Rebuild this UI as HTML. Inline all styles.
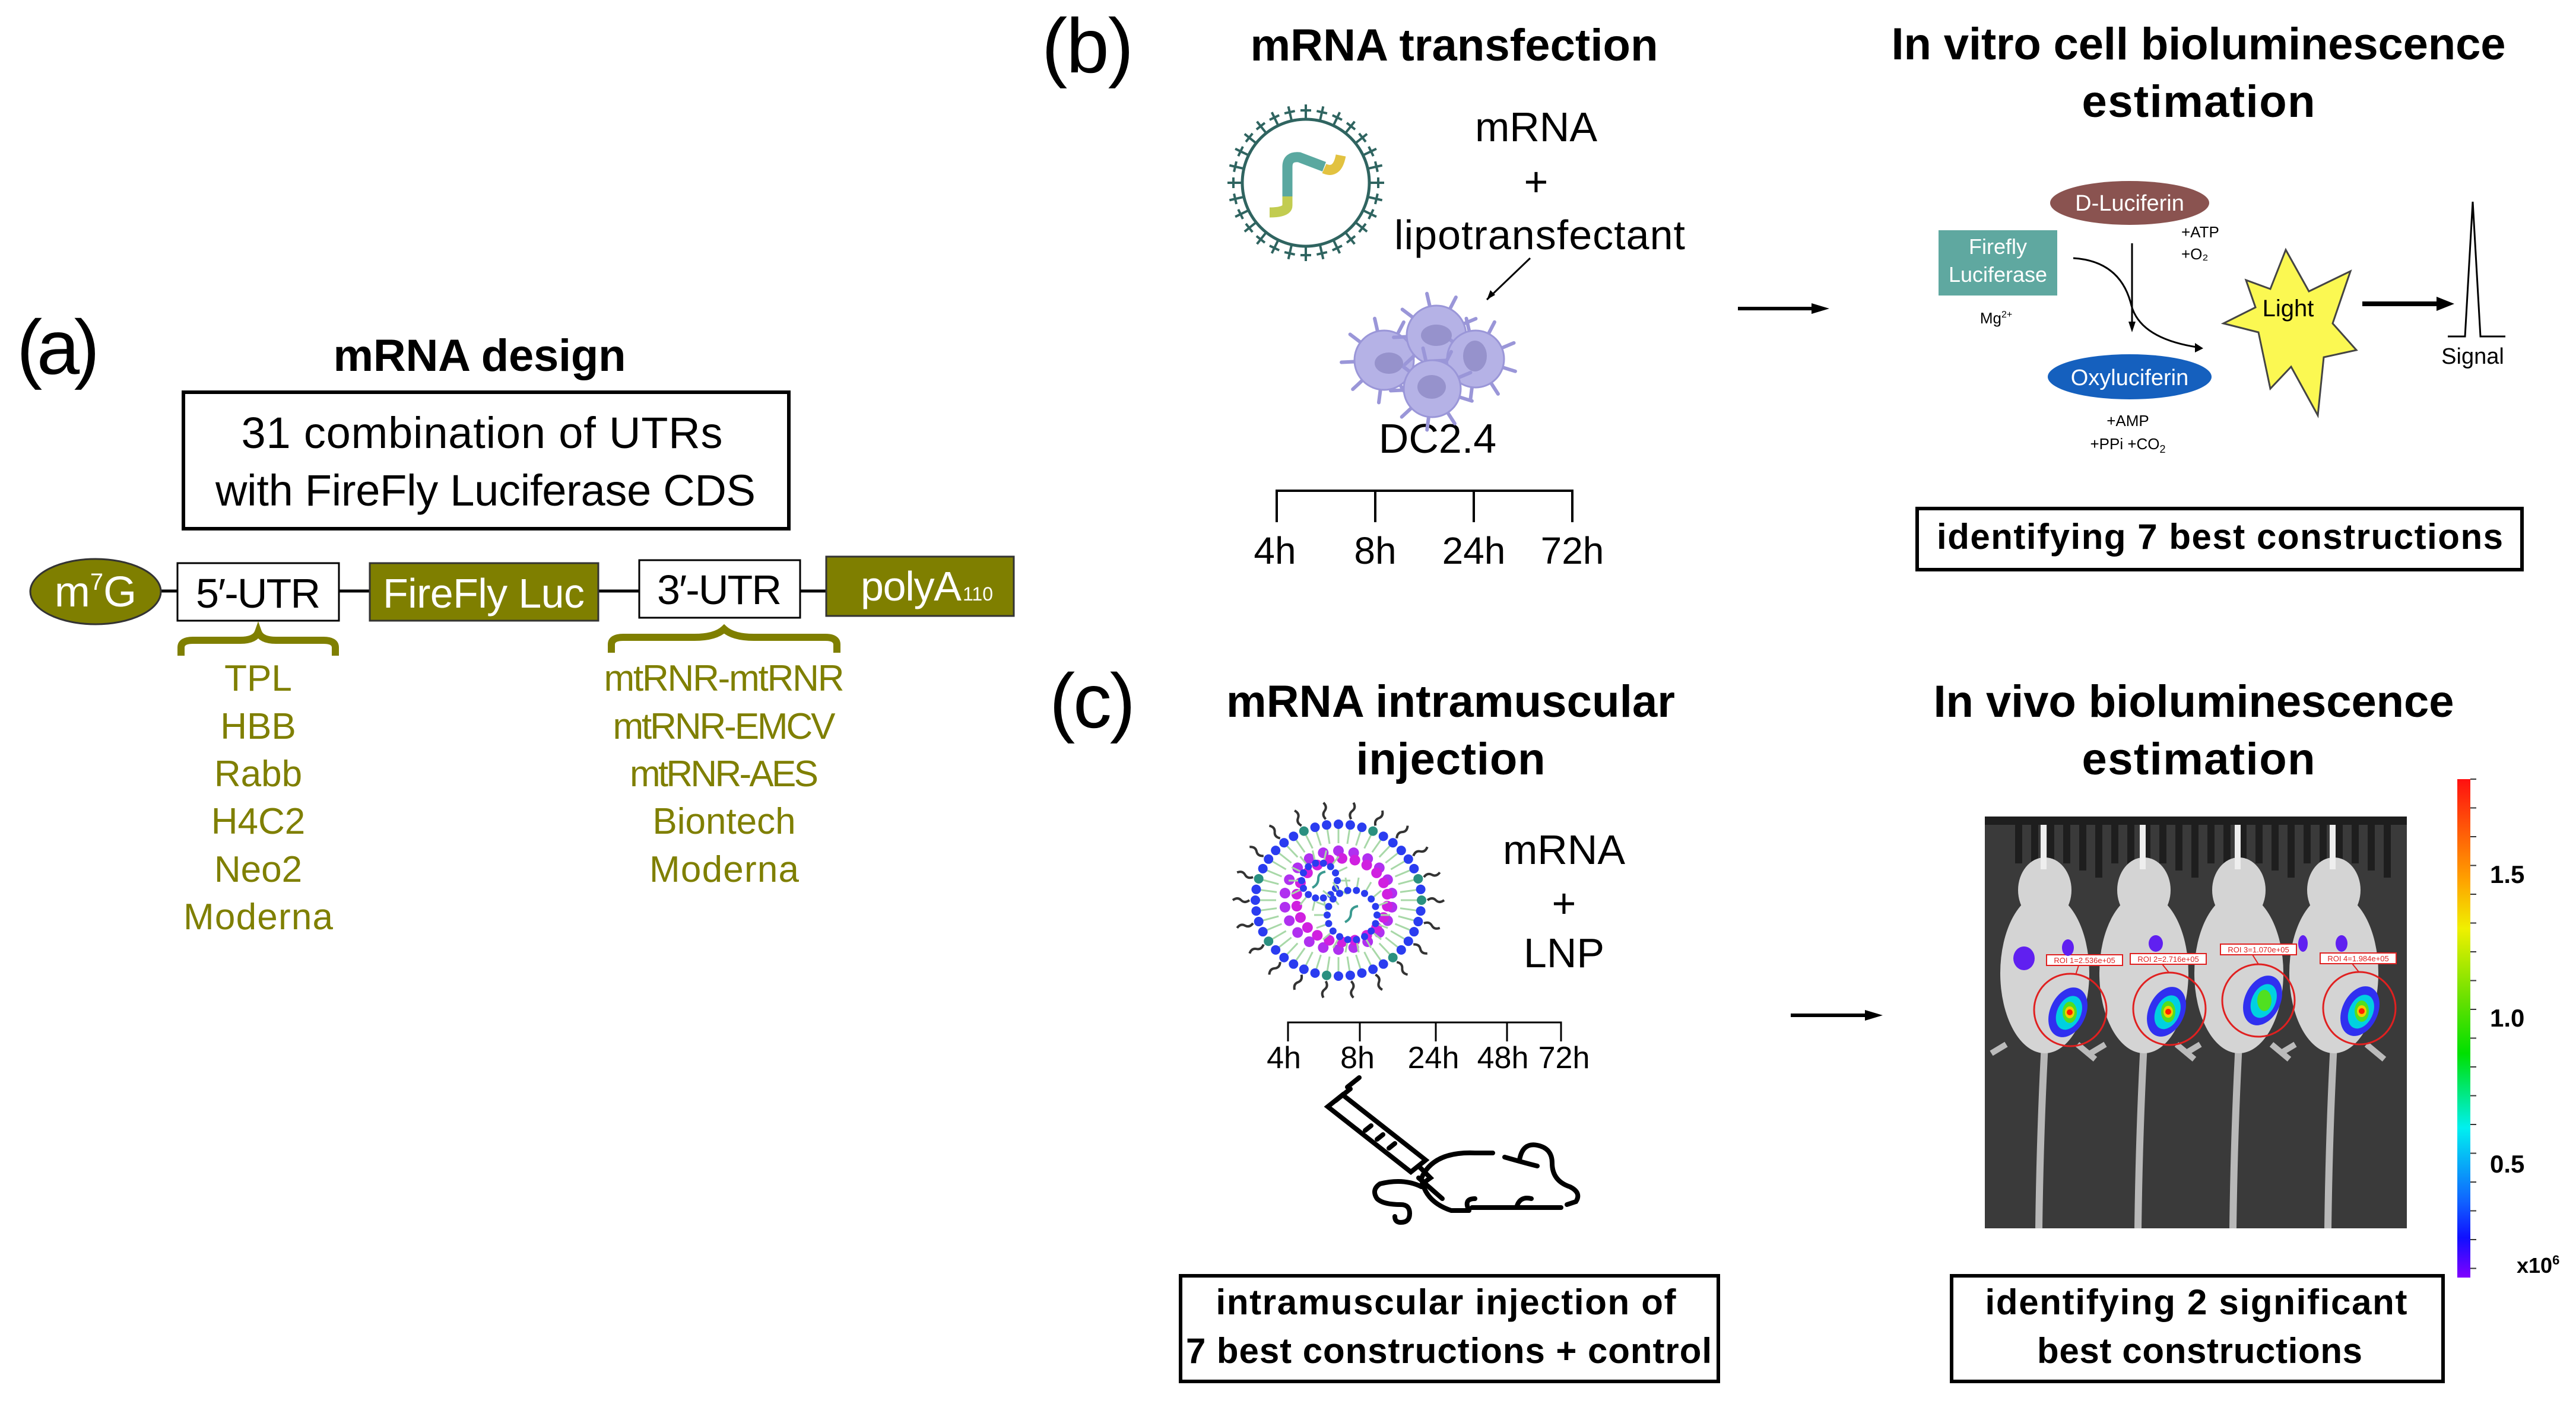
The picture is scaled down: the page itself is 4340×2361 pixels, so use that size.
<!DOCTYPE html>
<html><head><meta charset="utf-8"><style>html,body{margin:0;padding:0;background:#fff}svg{display:block}</style></head>
<body>
<svg id="s" xmlns="http://www.w3.org/2000/svg" width="4340" height="2361" viewBox="0 0 4340 2361" font-family="Liberation Sans, sans-serif">
<rect width="4340" height="2361" fill="#fff"/>
<!-- (a) -->
<text x="28" y="630" font-size="130" textLength="140">(a)</text>
<text x="808" y="625" font-size="76" font-weight="bold" text-anchor="middle" textLength="493">mRNA design</text>
<rect x="309" y="661" width="1020" height="230" fill="none" stroke="#000" stroke-width="6"/>
<text x="812" y="755" font-size="74" text-anchor="middle" textLength="811">31 combination of UTRs</text>
<text x="818" y="852" font-size="74" text-anchor="middle" textLength="910">with FireFly Luciferase CDS</text>
<line x1="260" y1="996" x2="1400" y2="996" stroke="#000" stroke-width="5"/>
<ellipse cx="161" cy="997" rx="110" ry="55" fill="#7f7f00" stroke="#333" stroke-width="3"/>
<text x="161" y="1022" font-size="72" fill="#fff" text-anchor="middle">m<tspan font-size="40" dy="-28">7</tspan><tspan dy="28">G</tspan></text>
<rect x="299" y="949" width="272" height="97" fill="#fff" stroke="#000" stroke-width="3"/>
<text x="435" y="1024" font-size="70" text-anchor="middle" textLength="210">5′-UTR</text>
<rect x="623" y="949" width="385" height="97" fill="#7f7f00" stroke="#333" stroke-width="3"/>
<text x="815" y="1024" font-size="70" fill="#fff" text-anchor="middle" textLength="340">FireFly Luc</text>
<rect x="1077" y="944" width="271" height="97" fill="#fff" stroke="#000" stroke-width="3"/>
<text x="1212" y="1018" font-size="70" text-anchor="middle" textLength="210">3′-UTR</text>
<rect x="1392" y="938" width="316" height="100" fill="#7f7f00" stroke="#333" stroke-width="3"/>
<text x="1450" y="1012" font-size="70" fill="#fff" textLength="170">polyA</text><text x="1622" y="1012" font-size="32" fill="#fff">110</text>
<path d="M305,1105 v-14 q0,-12 20,-12 h80 q25,0 30,-14 q5,14 30,14 h80 q20,0 20,12 v14" fill="none" stroke="#7f7f00" stroke-width="12"/>
<path d="M1030,1100 v-14 q0,-12 20,-12 h120 q35,0 50,-14 q15,14 50,14 h120 q20,0 20,12 v14" fill="none" stroke="#7f7f00" stroke-width="12"/>
<g font-size="62" fill="#7f7f00" text-anchor="middle">
<text x="435" y="1164">TPL</text><text x="435" y="1245">HBB</text><text x="435" y="1325">Rabb</text><text x="435" y="1405">H4C2</text><text x="435" y="1486">Neo2</text><text x="435" y="1566" textLength="252">Moderna</text>
<text x="1220" y="1164" textLength="405">mtRNR-mtRNR</text><text x="1220" y="1245" textLength="375">mtRNR-EMCV</text><text x="1220" y="1325" textLength="318">mtRNR-AES</text><text x="1220" y="1405">Biontech</text><text x="1220" y="1486" textLength="252">Moderna</text>
</g>
<!-- (b) -->
<text x="1755" y="122" font-size="130" textLength="155">(b)</text>
<text x="2450" y="102" font-size="76" font-weight="bold" text-anchor="middle" textLength="687">mRNA transfection</text>
<g id="lipo"></g>
<path d="M2169,331 v-50 q0,-18 20,-16 l42,16" fill="none" stroke="#5aa8a0" stroke-width="17"/>
<path d="M2231,284 q22,10 28,-22" fill="none" stroke="#e2c240" stroke-width="17"/>
<path d="M2169,331 v15 q0,12 -30,12" fill="none" stroke="#c2cc50" stroke-width="17"/>
<g font-size="70" text-anchor="middle">
<text x="2588" y="238">mRNA</text><text x="2588" y="330">+</text><text x="2594" y="420" textLength="490">lipotransfectant</text>
<text x="2422" y="763">DC2.4</text>
</g>
<line x1="2578" y1="435" x2="2505" y2="505" stroke="#000" stroke-width="3"/>
<path d="M2505,505 l6,-16 l8,8 z" fill="#000"/>
<g id="cells" fill="#b5b2e6" stroke="#9a96d8" stroke-width="3"></g>
<g fill="#9692cc"><ellipse cx="2340" cy="612" rx="24" ry="18"/><ellipse cx="2420" cy="565" rx="26" ry="18"/><ellipse cx="2485" cy="600" rx="20" ry="26"/><ellipse cx="2412" cy="652" rx="24" ry="20"/></g>
<g stroke="#000" stroke-width="4" fill="none">
<path d="M2151,880 v-53 h498 v53 M2317,827 v53 M2483,827 v53"/>
</g>
<g font-size="64" text-anchor="middle"><text x="2148" y="950">4h</text><text x="2317" y="950">8h</text><text x="2483" y="950">24h</text><text x="2649" y="950">72h</text></g>
<line x1="2928" y1="520" x2="3060" y2="520" stroke="#000" stroke-width="6"/><path d="M3082,520 l-30,-9 v18 z"/>
<text x="3704" y="100" font-size="76" font-weight="bold" text-anchor="middle" textLength="1035">In vitro cell bioluminescence</text>
<text x="3704" y="197" font-size="76" font-weight="bold" text-anchor="middle" textLength="393">estimation</text>
<rect x="3266" y="388" width="200" height="110" fill="#5fa8a0"/>
<text x="3366" y="428" font-size="36" fill="#fff" text-anchor="middle">Firefly</text>
<text x="3366" y="475" font-size="36" fill="#fff" text-anchor="middle">Luciferase</text>
<ellipse cx="3588" cy="342" rx="134" ry="37" fill="#8a5350"/>
<text x="3588" y="355" font-size="38" fill="#fff" text-anchor="middle">D-Luciferin</text>
<text x="3675" y="400" font-size="26">+ATP</text><text x="3675" y="437" font-size="26">+O₂</text>
<text x="3363" y="545" font-size="26" text-anchor="middle">Mg<tspan font-size="16" dy="-10">2+</tspan></text>
<ellipse cx="3588" cy="635" rx="138" ry="38" fill="#1560be"/>
<text x="3588" y="649" font-size="38" fill="#fff" text-anchor="middle">Oxyluciferin</text>
<text x="3585" y="718" font-size="26" text-anchor="middle">+AMP</text>
<text x="3585" y="757" font-size="26" text-anchor="middle">+PPi +CO<tspan font-size="18" dy="6">2</tspan></text>
<path d="M3493,435 q80,5 98,80 q15,55 110,70" fill="none" stroke="#000" stroke-width="3"/>
<path d="M3712,587 l-14,-9 v16 z"/>
<line x1="3592" y1="410" x2="3592" y2="545" stroke="#000" stroke-width="3"/><path d="M3592,560 l-6,-18 h12 z"/>
<polygon points="3851,421 3890,491 3960,457 3930,545 3970,590 3915,602 3905,700 3860,618 3825,655 3805,560 3746,545 3800,518 3784,472 3825,487" fill="#fbf852" stroke="#444" stroke-width="3"/>
<text x="3855" y="533" font-size="40" text-anchor="middle">Light</text>
<line x1="3980" y1="512" x2="4110" y2="512" stroke="#000" stroke-width="8"/><path d="M4135,512 l-30,-12 v24 z"/>
<path d="M4124,567 h29 l13,-227 l13,227 h42" fill="none" stroke="#000" stroke-width="3"/>
<text x="4166" y="613" font-size="38" text-anchor="middle">Signal</text>
<rect x="3230" y="857" width="1019" height="103" fill="none" stroke="#000" stroke-width="6"/>
<text x="3740" y="925" font-size="60" font-weight="bold" text-anchor="middle" textLength="954">identifying 7 best constructions</text>
<!-- (c) -->
<text x="1768" y="1226" font-size="130" textLength="145">(c)</text>
<text x="2444" y="1208" font-size="76" font-weight="bold" text-anchor="middle" textLength="756">mRNA intramuscular</text>
<text x="2444" y="1305" font-size="76" font-weight="bold" text-anchor="middle" textLength="319">injection</text>
<g id="lnp"></g>
<g font-size="70" text-anchor="middle"><text x="2635" y="1456">mRNA</text><text x="2635" y="1546">+</text><text x="2635" y="1630">LNP</text></g>
<g stroke="#000" stroke-width="3" fill="none"><path d="M2170,1755 v-32 h460 v32 M2291,1723 v32 M2419,1723 v32 M2539,1723 v32"/></g>
<g font-size="52" text-anchor="middle"><text x="2163" y="1800">4h</text><text x="2287" y="1800">8h</text><text x="2415" y="1800">24h</text><text x="2532" y="1800">48h</text><text x="2635" y="1800">72h</text></g>
<g stroke="#000" stroke-width="8" fill="none" stroke-linecap="round">
<path d="M2250,1855 l25,-20 M2262,1845 l140,110 l-25,20 l-140,-110 z" />
<path d="M2270,1832 l20,-16 M2300,1905 l10,-8 M2320,1920 l10,-8 M2340,1935 l10,-8"/>
<path d="M2390,1965 l20,20 l-14,10 M2390,1985 l40,35"/>
<path d="M2395,1985 q20,-45 90,-42 h30 M2535,1950 q35,10 55,15 M2560,1955 q5,-30 30,-25 q25,5 25,30 q0,30 30,40 q20,10 10,25 l-15,5 M2480,2035 h150 M2395,1985 q5,40 50,55 h30 M2475,2040 q-10,-20 10,-20 M2555,2035 q5,-20 25,-15 M2395,2000 q-30,-15 -70,-5 q-15,10 -5,25 q10,10 40,10 q15,0 15,15 q0,15 -15,15 q-10,0 -10,-10"/>
</g>
<line x1="3017" y1="1711" x2="3150" y2="1711" stroke="#000" stroke-width="6"/><path d="M3172,1711 l-30,-9 v18 z"/>
<rect x="1989" y="2150" width="906" height="178" fill="none" stroke="#000" stroke-width="6"/>
<text x="2436" y="2215" font-size="60" font-weight="bold" text-anchor="middle" textLength="775">intramuscular injection of</text>
<text x="2441" y="2297" font-size="60" font-weight="bold" text-anchor="middle" textLength="886">7 best constructions + control</text>
<text x="3696" y="1208" font-size="76" font-weight="bold" text-anchor="middle" textLength="877">In vivo bioluminescence</text>
<text x="3704" y="1305" font-size="76" font-weight="bold" text-anchor="middle" textLength="393">estimation</text>
<!-- mouse image -->
<rect x="3344" y="1376" width="711" height="694" fill="#3a3a3a"/>
<rect x="3344" y="1376" width="711" height="14" fill="#1e1e1e"/>
<g fill="#1e1e1e" id="bars"></g>
<g fill="#d4d4d4" id="mice"></g>
<g id="blobs"></g>
<defs><linearGradient id="cb" x1="0" y1="0" x2="0" y2="1">
<stop offset="0" stop-color="#ff1010"/><stop offset="0.2" stop-color="#ffa000"/><stop offset="0.3" stop-color="#f0f000"/><stop offset="0.45" stop-color="#60e000"/><stop offset="0.55" stop-color="#00e000"/><stop offset="0.7" stop-color="#00f0f0"/><stop offset="0.85" stop-color="#1060ff"/><stop offset="0.92" stop-color="#1010ff"/><stop offset="1" stop-color="#8000ff"/></linearGradient></defs>
<rect x="4140" y="1313" width="22" height="840" fill="url(#cb)"/>
<g id="cbt" stroke="#333" stroke-width="2"></g>
<g font-size="42" font-weight="bold"><text x="4195" y="1488">1.5</text><text x="4195" y="1730">1.0</text><text x="4195" y="1976">0.5</text><text x="4240" y="2145" font-size="36">x10<tspan font-size="22" dy="-14">6</tspan></text></g>
<rect x="3288" y="2150" width="828" height="178" fill="none" stroke="#000" stroke-width="6"/>
<text x="3700" y="2215" font-size="60" font-weight="bold" text-anchor="middle" textLength="711">identifying 2 significant</text>
<text x="3706" y="2297" font-size="60" font-weight="bold" text-anchor="middle" textLength="548">best constructions</text>
</svg>
<script>
var NS="http://www.w3.org/2000/svg";
function el(p,t,a){var e=document.createElementNS(NS,t);for(var k in a)e.setAttribute(k,a[k]);document.getElementById(p).appendChild(e);return e;}
// lipoplex
el("lipo","circle",{cx:2200,cy:308,r:107,fill:"none",stroke:"#2f6460","stroke-width":5});
for(var i=0;i<28;i++){var a=i/28*2*Math.PI,c=Math.cos(a),s=Math.sin(a);
el("lipo","line",{x1:2200+107*c,y1:308+107*s,x2:2200+132*c,y2:308+132*s,stroke:"#2f6460","stroke-width":4});
var mx=2200+122*c,my=308+122*s;
el("lipo","line",{x1:mx-9*s,y1:my+9*c,x2:mx+9*s,y2:my-9*c,stroke:"#2f6460","stroke-width":4});}
// cells with spikes
[[2332,607,50],[2420,565,50],[2486,605,48],[2413,655,48]].forEach(function(q){
for(var j=0;j<9;j++){var a=j/9*2*Math.PI+0.3;el("cells","line",{x1:q[0]+q[2]*Math.cos(a),y1:q[1]+q[2]*Math.sin(a),x2:q[0]+(q[2]+22)*Math.cos(a),y2:q[1]+(q[2]+22)*Math.sin(a),"stroke-width":6,"stroke-linecap":"round"});}
el("cells","circle",{cx:q[0],cy:q[1],r:q[2]});});
// LNP
var cx=2255,cy=1517;
for(var i=0;i<44;i++){var a=i/44*2*Math.PI,c=Math.cos(a),s=Math.sin(a);
var rx=140,ry=128;
el("lnp","line",{x1:cx+rx*0.75*c,y1:cy+ry*0.75*s,x2:cx+rx*0.95*c,y2:cy+ry*0.95*s,stroke:"#a8d8a8","stroke-width":3});
el("lnp","circle",{cx:cx+rx*c,cy:cy+ry*s,r:8,fill:i%6==0?"#2a9080":"#2a3cf0"});
if(i%2==0)el("lnp","path",{d:"M"+(cx+(rx+10)*c)+","+(cy+(ry+10)*s)+" q"+(8*c+6*s)+","+(8*s-6*c)+" "+(14*c)+","+(14*s)+" t"+(14*c)+","+(14*s),fill:"none",stroke:"#333","stroke-width":4});
if(i%2==1){el("lnp","circle",{cx:cx+rx*0.65*c,cy:cy+ry*0.65*s,r:9,fill:"#b030f0"});el("lnp","circle",{cx:cx+rx*0.55*c+6,cy:cy+ry*0.55*s,r:9,fill:"#d020e0"});}}
[[2223,1484,30,14],[2278,1542,42,18]].forEach(function(q){for(var j=0;j<q[3];j++){var a=j/q[3]*2*Math.PI;
el("lnp","line",{x1:q[0]+(q[2]+6)*Math.cos(a),y1:q[1]+(q[2]+6)*Math.sin(a),x2:q[0]+(q[2]+22)*Math.cos(a),y2:q[1]+(q[2]+22)*Math.sin(a),stroke:"#a8d8a8","stroke-width":3});
el("lnp","circle",{cx:q[0]+q[2]*Math.cos(a),cy:q[1]+q[2]*Math.sin(a),r:6,fill:"#2a3cf0"});}
el("lnp","path",{d:"M"+(q[0]-12)+","+(q[1]+12)+" q10,-5 10,-15 q0,-10 12,-12",fill:"none",stroke:"#3a9a90","stroke-width":4});});
// mouse image
for(var i=0;i<24;i++)el("bars","rect",{x:3395+i*27,y:1385,width:12,height:70+(i%3)*12});
[3440,3607,3767,3927].forEach(function(x,k){
el("mice","path",{d:"M"+(x+5)+",1760 q-8,150 -10,310",stroke:"#b8b8b8","stroke-width":12,fill:"none"});
el("mice","ellipse",{cx:x+5,cy:1500,rx:45,ry:55});
el("mice","ellipse",{cx:x+5,cy:1640,rx:75,ry:135});
el("mice","rect",{x:x-2,y:1390,width:10,height:75,fill:"#eee"});
el("mice","path",{d:"M"+(x-60)+",1760 l-25,15 M"+(x+60)+",1760 l30,25",stroke:"#bbb","stroke-width":10});
});
[[3484,1706,1.0],[3650,1705,1.0],[3812,1686,0.7],[3976,1704,0.9]].forEach(function(b,k){
var g="blobs";
el(g,"ellipse",{cx:b[0],cy:b[1],rx:30,ry:44,fill:"#3030f0",transform:"rotate(25 "+b[0]+" "+b[1]+")"});
el(g,"ellipse",{cx:b[0]+2,cy:b[1],rx:20,ry:30,fill:"#00d0e0",transform:"rotate(25 "+b[0]+" "+b[1]+")"});
el(g,"ellipse",{cx:b[0]+3,cy:b[1],rx:12,ry:18,fill:"#50e020"});
if(b[2]>0.8){el(g,"ellipse",{cx:b[0]+3,cy:b[1],rx:8,ry:10,fill:"#f0d000"});el(g,"circle",{cx:b[0]+3,cy:b[1],r:5,fill:"#ff2000"});}
var c=[[3488,1702],[3655,1700],[3805,1686],[3975,1699]][k];
el(g,"circle",{cx:c[0],cy:c[1],r:61,fill:"none",stroke:"#e02020","stroke-width":3});
var L=[[3512,1618],[3653,1616],[3805,1600],[3973,1615]][k];
el(g,"line",{x1:c[0]+(L[0]-c[0])*0.4,y1:c[1]-61,x2:L[0]-10,y2:L[1]+9,stroke:"#e02020","stroke-width":2});
el(g,"rect",{x:L[0]-64,y:L[1]-9,width:128,height:18,fill:"#fff",stroke:"#e02020","stroke-width":2});
var t=el(g,"text",{x:L[0],y:L[1]+5,"font-size":13,fill:"#e02020","text-anchor":"middle"});t.textContent=["ROI 1=2.536e+05","ROI 2=2.716e+05","ROI 3=1.070e+05","ROI 4=1.984e+05"][k];
});
el("blobs","ellipse",{cx:3410,cy:1615,rx:18,ry:20,fill:"#6020f0"});
el("blobs","ellipse",{cx:3484,cy:1597,rx:10,ry:14,fill:"#6020f0"});
el("blobs","ellipse",{cx:3632,cy:1590,rx:12,ry:14,fill:"#6020f0"});
el("blobs","ellipse",{cx:3880,cy:1590,rx:8,ry:14,fill:"#6020f0"});
el("blobs","ellipse",{cx:3945,cy:1590,rx:10,ry:14,fill:"#6020f0"});
for(var i=0;i<18;i++)el("cbt","line",{x1:4162,y1:1313+i*48.5,x2:4172,y2:1313+i*48.5});
</script>
</body></html>
